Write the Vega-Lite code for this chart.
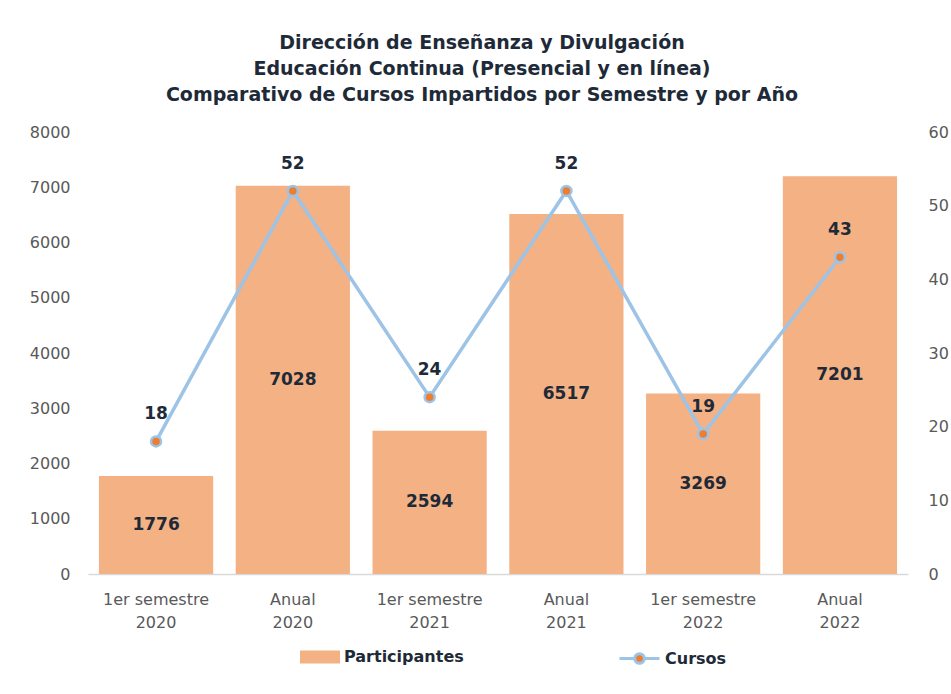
{
  "$schema": "https://vega.github.io/schema/vega-lite/v6.json",
  "width": 820,
  "height": 442,
  "autosize": {"type": "none"},
  "padding": {"left": 88, "top": 132, "right": 43, "bottom": 120},
  "background": "white",
  "config": {
    "font": "DejaVu Sans",
    "view": {"stroke": null},
    "axis": {"grid": false, "ticks": false, "labelFont": "DejaVu Sans", "labelFontSize": 16, "labelColor": "#595959"}
  },
  "title": {
    "text": ["Dirección de Enseñanza y Divulgación", "Educación Continua (Presencial y en línea)", "Comparativo de Cursos Impartidos por Semestre y por Año"],
    "font": "DejaVu Sans",
    "fontSize": 19,
    "fontWeight": "bold",
    "color": "#1e2a38",
    "lineHeight": 26,
    "anchor": "middle",
    "dx": -16,
    "offset": 19
  },
  "data": {
    "values": [
      {"cat": "1er semestre|2020", "p": 1776, "c": 18},
      {"cat": "Anual|2020", "p": 7028, "c": 52},
      {"cat": "1er semestre|2021", "p": 2594, "c": 24},
      {"cat": "Anual|2021", "p": 6517, "c": 52},
      {"cat": "1er semestre|2022", "p": 3269, "c": 19},
      {"cat": "Anual|2022", "p": 7201, "c": 43}
    ]
  },
  "encoding": {
    "x": {
      "field": "cat", "type": "nominal", "sort": null, "title": null,
      "scale": {"paddingInner": 0.165, "paddingOuter": 0.08},
      "axis": {"labelAngle": 0, "labelExpr": "split(datum.label, '|')", "labelPadding": 17, "labelLineHeight": 23, "domainColor": "#d9d9d9", "domainWidth": 1.5}
    }
  },
  "layer": [
    {
      "layer": [
        {
          "mark": {"type": "bar", "color": "#F4B183"},
          "encoding": {
            "y": {"field": "p", "type": "quantitative", "title": null, "scale": {"domain": [0, 8000]}, "axis": {"tickCount": 8, "format": "d", "labelPadding": 18, "domain": false}},
            "fill": {"datum": "Participantes", "scale": {"range": ["#F4B183"]}, "legend": {"title": null, "orient": "none", "legendX": 212, "legendY": 505, "symbolType": "M-1,-0.32H1V0.32H-1Z", "symbolSize": 1600, "symbolStrokeWidth": 0, "labelFontSize": 16, "labelFontWeight": "bold", "labelColor": "#1e2a38", "labelFont": "DejaVu Sans"}}
          }
        },
        {
          "mark": {"type": "text", "fontSize": 17, "fontWeight": "bold", "color": "#1e2a38", "baseline": "middle"},
          "encoding": {
            "y": {"field": "p", "type": "quantitative", "scale": {"domain": [0, 16000]}, "axis": null},
            "text": {"field": "p", "type": "quantitative", "format": "d"}
          }
        }
      ],
      "resolve": {"scale": {"y": "independent"}}
    },
    {
      "layer": [
        {
          "mark": {"type": "line", "color": "#9DC3E6", "strokeWidth": 3.5},
          "encoding": {
            "y": {"field": "c", "type": "quantitative", "title": null, "scale": {"domain": [0, 60]}, "axis": {"orient": "right", "tickCount": 6, "labelPadding": 20, "domain": false}},
            "stroke": {"datum": "Cursos", "scale": {"range": ["#9DC3E6"]}, "legend": {"title": null, "orient": "none", "legendX": 530, "legendY": 505, "symbolType": "M-1,0H-0.24M0.24,0H1M0.24,0A0.24,0.24 0 1 1 -0.24,0A0.24,0.24 0 1 1 0.24,0Z", "symbolSize": 1600, "symbolStrokeWidth": 3, "symbolFillColor": "#ED7D31", "labelFontSize": 16, "labelFontWeight": "bold", "labelColor": "#1e2a38", "labelFont": "DejaVu Sans"}}
          }
        },
        {
          "mark": {"type": "point", "filled": true, "fill": "#ED7D31", "stroke": "#9DC3E6", "strokeWidth": 2.5, "size": 100, "opacity": 1},
          "encoding": {"y": {"field": "c", "type": "quantitative"}}
        },
        {
          "mark": {"type": "text", "fontSize": 17, "fontWeight": "bold", "color": "#1e2a38", "baseline": "middle", "dy": -27},
          "encoding": {
            "y": {"field": "c", "type": "quantitative"},
            "text": {"field": "c", "type": "quantitative"}
          }
        }
      ]
    }
  ],
  "resolve": {"scale": {"y": "independent"}}
}
